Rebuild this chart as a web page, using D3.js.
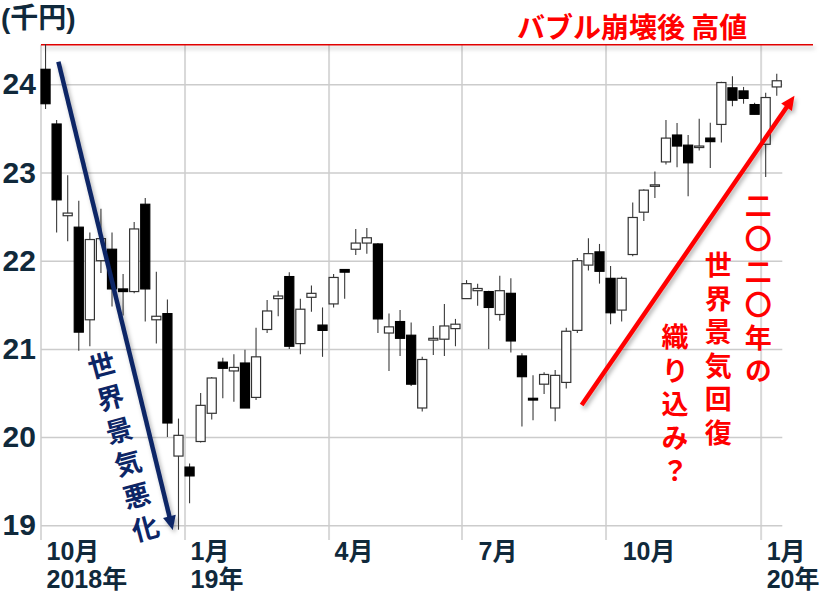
<!DOCTYPE html>
<html>
<head>
<meta charset="utf-8">
<title>日経平均 週足</title>
<script src="https://cdnjs.cloudflare.com/ajax/libs/d3/7.8.5/d3.min.js"></script>
<style>
  body { margin: 0; background: #fff; }
</style>
</head>
<body>
<div id="chart"></div>
<script>
// ---------------- DATA (weekly candles, 千円) ----------------
// week starting Monday; Golden Week 2019 (04/29) has no trading
const weeks = [
  "18/10/01","18/10/08","18/10/15","18/10/22","18/10/29","18/11/05","18/11/12","18/11/19","18/11/26","18/12/03",
  "18/12/10","18/12/17","18/12/24","18/12/31","19/01/07","19/01/14","19/01/21","19/01/28","19/02/04","19/02/11",
  "19/02/18","19/02/25","19/03/04","19/03/11","19/03/18","19/03/25","19/04/01","19/04/08","19/04/15","19/04/22",
  "19/05/06","19/05/13","19/05/20","19/05/27","19/06/03","19/06/10","19/06/17","19/06/24","19/07/01","19/07/08",
  "19/07/15","19/07/22","19/07/29","19/08/05","19/08/12","19/08/19","19/08/26","19/09/02","19/09/09","19/09/16",
  "19/09/23","19/09/30","19/10/07","19/10/14","19/10/21","19/10/28","19/11/04","19/11/11","19/11/18","19/11/25",
  "19/12/02","19/12/09","19/12/16","19/12/23","19/12/30","20/01/06","20/01/13"
];
const open = [
  24.17, 23.55, 22.51, 22.38, 21.33, 22.00, 22.13, 21.68, 21.65, 22.64,
  21.33, 21.40, 19.785, 19.66, 19.95, 20.27, 20.85, 20.75, 20.84, 20.45,
  21.22, 21.57, 21.82, 21.06, 21.585, 21.27, 21.51, 21.90, 22.13, 22.20,
  22.19, 21.18, 21.31, 21.155, 20.33, 21.10, 21.11, 21.23, 21.57, 21.66,
  21.65, 21.39, 21.63, 20.92, 20.44, 20.60, 20.33, 20.62, 21.21, 21.95,
  22.10, 21.80, 21.44, 22.07, 22.55, 22.85, 23.12, 23.425, 23.31, 23.29,
  23.39, 23.545, 23.96, 23.925, 23.77, 23.32, 23.97
];
const high = [
  24.457, 23.595, 22.97, 22.68, 22.32, 22.59, 22.32, 21.85, 22.44, 22.71,
  21.875, 21.56, 20.21, 19.70, 20.50, 20.68, 20.90, 20.94, 20.99, 21.24,
  21.555, 21.66, 21.87, 21.57, 21.72, 21.47, 21.85, 21.90, 22.36, 22.37,
  22.20, 21.40, 21.44, 21.30, 20.91, 21.26, 21.51, 21.34, 21.78, 21.74,
  21.66, 21.83, 21.80, 20.95, 20.70, 20.735, 20.76, 21.24, 22.03, 22.255,
  22.19, 21.94, 21.82, 22.66, 22.81, 23.01, 23.595, 23.56, 23.425, 23.61,
  23.565, 24.03, 24.09, 23.97, 23.79, 23.905, 24.12
];
const low = [
  23.72, 22.32, 22.22, 20.98, 21.03, 21.86, 21.48, 21.38, 21.63, 21.31,
  21.06, 20.00, 18.95, 19.25, 19.94, 20.20, 20.44, 20.40, 20.33, 20.42,
  21.18, 21.37, 21.00, 20.94, 21.42, 20.91, 21.47, 21.57, 22.065, 22.08,
  21.18, 20.75, 20.92, 20.58, 20.29, 20.93, 20.92, 21.03, 21.57, 21.49,
  21.00, 21.32, 20.96, 20.12, 20.19, 20.49, 20.18, 20.55, 21.18, 21.89,
  21.74, 21.28, 21.31, 22.05, 22.45, 22.71, 23.09, 23.06, 22.73, 23.25,
  23.05, 23.34, 23.75, 23.78, 23.66, 22.95, 23.87
];
const close = [
  23.78, 22.69, 22.54, 21.19, 22.24, 22.25, 21.68, 21.65, 22.36, 21.68,
  21.37, 20.16, 20.02, 19.56, 20.36, 20.67, 20.78, 20.79, 20.33, 20.91,
  21.43, 21.60, 21.03, 21.45, 21.63, 21.21, 21.81, 21.87, 22.20, 22.26,
  21.34, 21.25, 21.12, 20.60, 20.88, 21.12, 21.26, 21.28, 21.74, 21.685,
  21.47, 21.66, 21.09, 20.685, 20.42, 20.71, 20.70, 21.20, 22.00, 22.08,
  21.88, 21.41, 21.80, 22.49, 22.80, 22.86, 23.39, 23.30, 23.11, 23.30,
  23.35, 24.02, 23.82, 23.84, 23.66, 23.85, 24.04
];

const yTicks = [19, 20, 21, 22, 23, 24];
const bubbleHigh = 24.448;   // バブル崩壊後 高値

// month gridlines (first week containing a trading day of the month)
const gridWeeks = ["18/10/01", "18/12/31", "19/04/01", "19/07/01", "19/09/30", "20/01/06"];
const labelWeeks = ["18/10/01", "18/12/31", "19/04/01", "19/07/08", "19/10/07", "20/01/06"];
const monthLabels = ["10月", "1月", "4月", "7月", "10月", "1月"];
const yearLabels = ["2018年", "19年", "", "", "", "20年"];

// ---------------- SETUP ----------------
const width = 821, height = 592;
const navy = "#10293b";
const red = "#ff0000";
const blue = "#0c2566";
const numFont = "'Liberation Sans', Arial, sans-serif";
const jpFont = "'Liberation Sans', 'Noto Sans CJK JP', sans-serif";
const cjkFont = "'Noto Sans CJK JP', sans-serif";

const svg = d3.select("#chart").append("svg")
  .attr("width", width)
  .attr("height", height)
  .style("background", "#fff");

const defs = svg.append("defs");
const shadow = defs.append("filter")
  .attr("id", "shadow")
  .attr("filterUnits", "userSpaceOnUse")
  .attr("x", 0).attr("y", 0).attr("width", width).attr("height", height);
shadow.append("feDropShadow")
  .attr("dx", 2).attr("dy", 3).attr("stdDeviation", 2.2)
  .attr("flood-color", "#000").attr("flood-opacity", 0.3);

// ---------------- SCALES ----------------
const x = d3.scaleBand()
  .domain(weeks)
  .range([40, 782.3])
  .paddingInner(0.18)
  .paddingOuter(0.09);
const y = d3.scaleLinear().domain([19, 24]).range([525.3, 84.3]);

const cx = d => x(d) + x.bandwidth() / 2;
// fractional week position, for the hand drawn arrows
const fx = t => cx(weeks[0]) + t * x.step();

const plotLeft = x(weeks[0]);
const plotRight = x.range()[1];
const plotTop = y(bubbleHigh);

// ---------------- GRID ----------------
svg.append("g")
  .selectAll("line")
  .data(gridWeeks)
  .join("line")
  .attr("x1", d => x(d)).attr("x2", d => x(d))
  .attr("y1", plotTop).attr("y2", 540)
  .attr("stroke", "#d9d9d9")
  .attr("stroke-width", 2);

const yAxis = svg.append("g")
  .attr("transform", `translate(${plotLeft},0)`)
  .call(d3.axisLeft(y)
    .tickValues(yTicks)
    .tickSize(-(plotRight - plotLeft))
    .tickPadding(5)
    .tickFormat(d3.format("d")));
yAxis.select(".domain").remove();
yAxis.selectAll(".tick line").attr("stroke", "#cccccc").attr("stroke-width", 1.5);
yAxis.selectAll(".tick text")
  .attr("font-family", numFont)
  .attr("font-size", 30)
  .attr("font-weight", "bold")
  .attr("fill", navy);

// bubble high line
svg.append("line")
  .attr("x1", plotLeft).attr("x2", 813)
  .attr("y1", plotTop).attr("y2", plotTop)
  .attr("stroke", "#e00000")
  .attr("stroke-width", 1.6)
  .attr("filter", "url(#shadow)");

// ---------------- CANDLES ----------------
const candles = svg.append("g")
  .selectAll("g")
  .data(weeks)
  .join("g");

candles.append("line")
  .attr("x1", d => cx(d)).attr("x2", d => cx(d))
  .attr("y1", (d, i) => y(high[i]))
  .attr("y2", (d, i) => y(low[i]))
  .attr("stroke", "#3a3a3a")
  .attr("stroke-width", 1.1);

candles.append("rect")
  .attr("x", d => x(d))
  .attr("width", x.bandwidth())
  .attr("y", (d, i) => y(Math.max(open[i], close[i])))
  .attr("height", (d, i) => Math.max(1.5, Math.abs(y(open[i]) - y(close[i]))))
  .attr("fill", (d, i) => close[i] >= open[i] ? "#fff" : "#000")
  .attr("stroke", (d, i) => close[i] >= open[i] ? "#333" : "#000")
  .attr("stroke-width", 1.2);

// ---------------- X LABELS ----------------
const xl = svg.append("g")
  .attr("font-family", jpFont)
  .attr("font-size", 25)
  .attr("font-weight", "bold")
  .attr("fill", navy)
  .selectAll("g")
  .data(labelWeeks)
  .join("g")
  .attr("transform", d => `translate(${cx(d) + 1},0)`);
xl.append("text").attr("y", 551).attr("dy", "0.36em").text((d, i) => monthLabels[i]);
xl.append("text").attr("y", 579).attr("dy", "0.36em").text((d, i) => yearLabels[i]);

svg.append("text")
  .attr("x", 1).attr("y", 28)
  .attr("font-family", jpFont)
  .attr("font-size", 28)
  .attr("font-weight", "bold")
  .attr("fill", navy)
  .text("(千円)");

// ---------------- ANNOTATIONS ----------------
function arrow(x1, y1, x2, y2, color) {
  const dx = x2 - x1, dy = y2 - y1, len = Math.hypot(dx, dy);
  const ux = dx / len, uy = dy / len, nx = -uy, ny = ux;
  const L = 14, W = 6.5;
  const g = svg.append("g").attr("filter", "url(#shadow)");
  g.append("line")
    .attr("x1", x1).attr("y1", y1)
    .attr("x2", x2 - ux * L * 0.8).attr("y2", y2 - uy * L * 0.8)
    .attr("stroke", color).attr("stroke-width", 4.5);
  g.append("path")
    .attr("d", `M${x2},${y2} L${x2 - ux * L + nx * W},${y2 - uy * L + ny * W} L${x2 - ux * L - nx * W},${y2 - uy * L - ny * W} Z`)
    .attr("fill", color);
}

// world economy worsening / recovering
arrow(fx(1.16), y(24.256), fx(11.48), y(18.947), blue);
arrow(fx(48.39), y(20.364), fx(67.6), y(23.87), red);

svg.append("text")
  .attr("x", 517).attr("y", 28).attr("dy", "0.36em")
  .attr("font-family", cjkFont)
  .attr("font-size", 28)
  .attr("font-weight", "bold")
  .attr("fill", red)
  .text("バブル崩壊後 高値");

// vertical text column: (x0, y0) is the centre of the first character
function vtext(str, x0, y0, step, color, angle) {
  const size = 27;
  svg.append("g")
    .attr("transform", `translate(${x0},${y0}) rotate(${angle})`)
    .append("text")
    .attr("x", 0)
    .attr("y", -size / 2)
    .attr("writing-mode", "vertical-rl")
    .style("text-orientation", "upright")
    .attr("letter-spacing", step - size)
    .attr("font-family", cjkFont)
    .attr("font-size", size)
    .attr("font-weight", "bold")
    .attr("fill", color)
    .text(str);
}

vtext("世界景気悪化", 101.7, 365, 33.8, blue, -15);
vtext("二〇二〇年の", 758.3, 206, 33, red, 0);
vtext("世界景気回復", 718.3, 265, 33.5, red, 0);
vtext("織り込み？", 675, 337, 33.5, red, 0);
</script>
</body>
</html>
